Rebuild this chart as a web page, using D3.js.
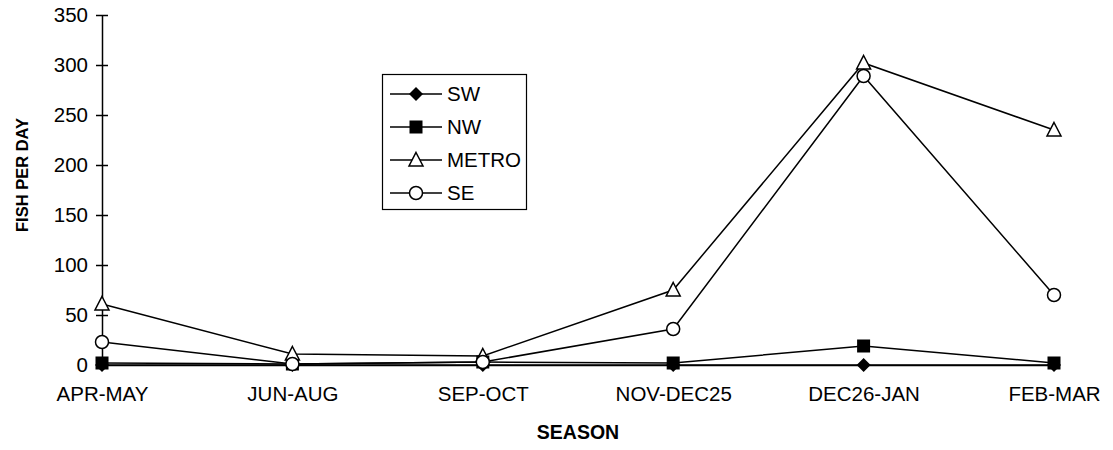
<!DOCTYPE html>
<html><head><meta charset="utf-8">
<script src="https://cdn.jsdelivr.net/npm/d3@7"></script>
<style>body{margin:0;background:#fff}text{font-family:"Liberation Sans",Arial,sans-serif;fill:#000}</style>
</head><body><svg id="c" width="1113" height="450"></svg>
<script>
const categories = ["APR-MAY","JUN-AUG","SEP-OCT","NOV-DEC25","DEC26-JAN","FEB-MAR"];
const sw    = [0, 0, 0, 0, 0, 0];
const nw    = [2, 1, 3, 2, 19, 2];
const metro = [61, 11, 9, 75, 302, 235];
const se    = [23, 1, 3, 36, 289, 70];
const yTicks = [0, 50, 100, 150, 200, 250, 300, 350];
const seriesNames = ["SW","NW","METRO","SE"];
const seriesData = [sw, nw, metro, se];
const seriesSymbols = ["diamond","square","triangle","circle"];

const svg = d3.select("#c");
const x = d3.scalePoint().domain(categories).range([102, 1054]);
const y = d3.scaleLinear().domain([0, 350]).range([365, 15]);

// y axis
const ya = svg.append("g").attr("transform","translate(102,0)")
  .call(d3.axisLeft(y).tickValues(yTicks).tickSize(6).tickSizeOuter(0).tickPadding(8));
ya.select(".domain").attr("stroke","#000").attr("stroke-width",1.5);
ya.selectAll(".tick line").attr("x1",6).attr("x2",-6).attr("stroke","#000").attr("stroke-width",1.5);
ya.selectAll(".tick text").attr("font-size",20.5).attr("font-family","Liberation Sans, Arial, sans-serif");

// x axis
const xa = svg.append("g").attr("transform","translate(0,365)")
  .call(d3.axisBottom(x).tickSize(0).tickPadding(21));
xa.select(".domain").attr("stroke","#000").attr("stroke-width",1.5);
xa.selectAll(".tick text").attr("font-size",20.5).attr("font-family","Liberation Sans, Arial, sans-serif");

// titles
svg.append("text").attr("x",578).attr("y",439).attr("text-anchor","middle")
  .attr("font-size",19.5).attr("font-weight","bold").text("SEASON");
svg.append("text").attr("transform","translate(28,175) rotate(-90)").attr("text-anchor","middle")
  .attr("font-size",16.5).attr("font-weight","bold").text("FISH PER DAY");

function drawMarker(g, sym, cx, cy){
  if(sym==="diamond"){
    g.append("path").attr("d",`M${cx},${cy-7}L${cx+7},${cy}L${cx},${cy+7}L${cx-7},${cy}Z`).attr("fill","#000");
  } else if(sym==="square"){
    g.append("rect").attr("x",cx-6.5).attr("y",cy-6.5).attr("width",13).attr("height",13).attr("fill","#000");
  } else if(sym==="triangle"){
    g.append("path").attr("d",`M${cx},${cy-7.5}L${cx+7},${cy+6}L${cx-7},${cy+6}Z`).attr("fill","#fff").attr("stroke","#000").attr("stroke-width",1.5);
  } else {
    g.append("circle").attr("cx",cx).attr("cy",cy).attr("r",6.5).attr("fill","#fff").attr("stroke","#000").attr("stroke-width",1.5);
  }
}

const line = d3.line().x((d,i)=>x(categories[i])).y(d=>y(d));
seriesData.forEach((vals,k)=>{
  const g = svg.append("g");
  g.append("path").datum(vals).attr("d",line).attr("fill","none").attr("stroke","#000").attr("stroke-width",1.5);
  vals.forEach((v,i)=>drawMarker(g, seriesSymbols[k], x(categories[i]), y(v)));
});

// legend
const lg = svg.append("g");
lg.append("rect").attr("x",382.5).attr("y",74.5).attr("width",144).attr("height",135)
  .attr("fill","#fff").attr("stroke","#000").attr("stroke-width",1.2);
seriesNames.forEach((n,k)=>{
  const cy = 94 + k*33;
  lg.append("line").attr("x1",390).attr("x2",442).attr("y1",cy).attr("y2",cy).attr("stroke","#000").attr("stroke-width",1.5);
  drawMarker(lg, seriesSymbols[k], 416, cy);
  lg.append("text").attr("x",447).attr("y",cy).attr("dy","0.36em").attr("font-size",20.5).text(n);
});
</script></body></html>
